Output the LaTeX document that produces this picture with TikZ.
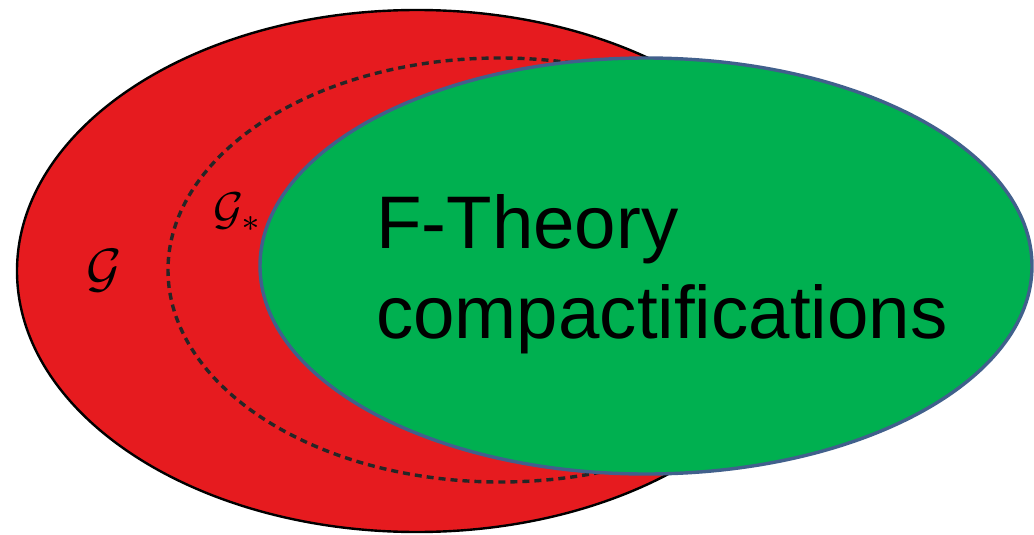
\documentclass[tikz,border=0pt]{standalone}
\usepackage{graphicx}
\usepackage{fontspec}
\setmainfont{Liberation Sans}
\usetikzlibrary{shapes.geometric}

\definecolor{setred}{RGB}{230,27,31}
\definecolor{ftgreen}{RGB}{0,176,80}
\definecolor{ftedge}{RGB}{65,96,140}

\begin{document}
\begin{tikzpicture}[x=1pt, y=-1pt,
  bigset/.style   = {draw=black, ellipse, fill=setred, line width=2.4pt, inner sep=0pt},
  subset/.style   = {draw=black!85, ellipse, dash pattern=on 7pt off 5pt, line width=3.4pt, inner sep=0pt},
  ftset/.style    = {draw=ftedge, ellipse, fill=ftgreen, line width=3.4pt, inner sep=0pt},
  setlabel/.style = {inner sep=0pt}
]
  \useasboundingbox (0,0) rectangle (1034,535);

  \node[bigset, minimum width=800pt, minimum height=522pt] (calg)     at (417,271) {};
  \node[subset, minimum width=664pt, minimum height=424pt] (calgstar) at (500,270) {};
  \node[ftset,  minimum width=772pt, minimum height=416pt] (ftheory)  at (646,266) {};

  \node[setlabel] (glabel)     at (104,271) {\scalebox{5.4}{$\mathcal{G}$}};
  \node[setlabel] (gstarlabel) at (238,212) {\scalebox{4.6}{$\mathcal{G}_*$}};
  \node[setlabel, anchor=base west, align=left, font=\fontsize{74.5}{90}\selectfont]
    (ftext) at (376,338) {F-Theory\\compactifications};
\end{tikzpicture}
\end{document}
